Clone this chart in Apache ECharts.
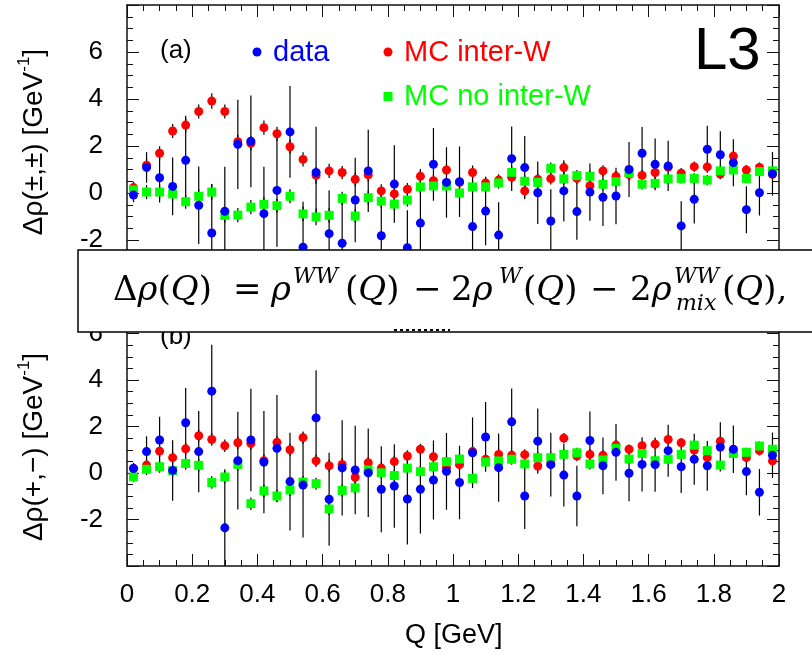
<!DOCTYPE html>
<html>
<head>
<meta charset="utf-8">
<script src="https://cdn.jsdelivr.net/npm/echarts@6/dist/echarts.min.js"></script>
<style>
  html, body { margin: 0; padding: 0; background: #fff; }
  #chart { width: 812px; height: 658px; }
</style>
</head>
<body>
<div id="chart"></div>
<script>
// Bin centres in Q [GeV]
const Q = [0.02,0.06,0.10,0.14,0.18,0.22,0.26,0.30,0.34,0.38,0.42,0.46,0.50,0.54,0.58,0.62,0.66,0.70,0.74,0.78,
           0.82,0.86,0.90,0.94,0.98,1.02,1.06,1.10,1.14,1.18,1.22,1.26,1.30,1.34,1.38,1.42,1.46,1.50,1.54,1.58,
           1.62,1.66,1.70,1.74,1.78,1.82,1.86,1.90,1.94,1.98];

// Panel (a): like-sign pairs
const dataA = [-0.09,1.09,0.65,0.28,1.39,-0.52,-1.70,-0.78,2.07,2.20,-0.88,0.11,2.60,-2.31,0.87,-1.73,-2.14,-0.30,0.94,-1.82,
               0.38,-2.33,-1.28,1.22,0.45,0.48,-1.43,-0.77,-1.79,1.46,1.08,0.01,-1.19,0.09,-0.79,0.04,-0.18,-0.13,1.00,1.69,
               1.22,1.15,-1.40,-0.27,1.86,1.63,1.29,-0.71,0.01,0.82];
const errA  = [0.30,0.65,1.05,1.23,1.90,1.65,2.08,1.90,1.90,1.95,2.00,2.40,1.95,1.94,1.95,1.85,2.10,1.80,1.75,2.00,
               1.65,1.60,2.30,1.55,1.50,1.50,2.60,1.45,1.40,1.37,1.35,1.33,1.35,1.30,1.20,1.22,1.22,1.20,1.17,1.12,
               1.10,1.07,1.05,1.03,1.00,1.00,1.00,1.00,0.97,0.93];
const mcInterA = [0.23,1.18,1.69,2.64,2.89,3.47,3.91,3.47,2.18,2.11,2.78,2.52,1.97,1.43,0.75,0.94,0.87,0.58,0.77,0.09,
                  -0.04,0.16,0.71,0.52,0.98,0.45,0.87,0.43,0.55,0.67,0.09,0.58,0.61,1.08,0.62,0.31,0.94,0.71,0.78,0.75,
                  0.87,1.10,0.84,1.12,1.11,0.81,1.57,0.98,1.09,0.80];
const mcNoInterA = [0.13,0.04,0.04,-0.04,-0.37,-0.14,0.04,-0.95,-0.94,-0.60,-0.48,-0.54,-0.14,-0.89,-1.02,-0.95,-0.23,-0.98,-0.20,-0.35,
                    -0.47,-0.30,0.26,0.30,0.30,0.00,0.26,0.26,0.43,0.88,0.50,0.45,1.05,0.60,0.74,0.71,0.37,0.48,0.84,0.38,
                    0.41,0.60,0.62,0.62,0.55,0.94,0.98,0.62,0.91,0.94];
const mcErrA = [0.25,0.30,0.30,0.30,0.30,0.30,0.33,0.30,0.30,0.30,0.30,0.30,0.30,0.30,0.35,0.30,0.28,0.28,0.28,0.28,
                0.27,0.27,0.27,0.27,0.26,0.26,0.26,0.26,0.25,0.25,0.25,0.25,0.25,0.24,0.24,0.24,0.24,0.23,0.23,0.23,
                0.23,0.22,0.22,0.22,0.22,0.22,0.21,0.21,0.21,0.21];

// Panel (b): unlike-sign pairs
const dataB = [0.19,0.92,1.42,0.11,2.16,0.92,3.52,-2.36,0.53,1.42,0.47,1.06,-0.37,-0.52,2.37,-1.13,0.22,0.13,0.01,-0.70,
               -0.56,-1.12,-0.70,-0.30,0.07,-0.41,0.87,1.55,0.23,2.20,-0.99,1.37,0.36,-0.09,-0.99,1.40,0.31,0.89,-0.01,0.37,
               0.36,0.96,0.27,0.59,0.31,1.12,1.02,0.06,-0.83,0.76];
const errB  = [0.25,0.66,1.00,1.30,1.50,1.75,2.00,2.52,2.10,2.20,2.20,2.30,2.10,2.25,2.05,2.00,2.05,1.90,1.90,1.85,
               1.80,1.95,1.90,1.70,1.65,1.58,1.52,1.50,1.47,1.43,1.42,1.40,1.37,1.35,1.30,1.25,1.22,1.22,1.20,1.17,
               1.17,1.12,1.13,1.10,1.07,1.06,1.02,1.02,1.00,0.98];
const mcInterB = [0.20,0.34,0.94,0.66,1.04,1.60,1.44,1.17,1.30,1.27,0.53,1.32,1.00,1.52,0.52,0.31,0.37,-0.19,0.44,0.21,
                  0.49,0.73,1.02,0.70,0.24,0.36,0.92,0.59,0.80,0.76,0.79,0.30,0.40,1.50,0.73,0.80,0.76,1.20,1.02,1.17,
                  1.24,1.44,1.30,0.99,0.66,1.37,0.84,0.66,0.96,0.52];
const mcNoInterB = [-0.16,0.16,0.27,0.10,0.41,0.33,-0.41,-0.17,0.37,-1.32,-0.77,-0.99,-0.73,-0.39,-0.46,-1.55,-0.75,-0.64,0.13,0.01,
                    -0.11,0.21,0.06,0.27,0.49,0.60,-0.23,0.47,0.52,0.59,0.39,0.66,0.66,0.80,0.87,0.39,0.56,1.06,0.60,0.84,
                    0.53,0.59,0.80,1.20,0.96,0.34,0.84,0.89,1.16,1.02];
const mcErrB = [0.22,0.25,0.26,0.26,0.27,0.27,0.27,0.27,0.27,0.27,0.27,0.27,0.26,0.26,0.26,0.26,0.26,0.25,0.25,0.25,
                0.25,0.25,0.24,0.24,0.24,0.24,0.24,0.23,0.23,0.23,0.23,0.23,0.22,0.22,0.22,0.22,0.22,0.21,0.21,0.21,
                0.21,0.21,0.20,0.20,0.20,0.20,0.20,0.20,0.20,0.20];

// Axis settings
const xTicks = { min: 0, max: 2, interval: 0.2 };
const yRange = { min: -4, max: 8, interval: 2 };
const yLabelShown = [-2, 0, 2, 4, 6];

const BLUE = '#0000ff', RED = '#ff0000', GREEN = '#00ff00';
const SANS = 'Liberation Sans, Arial, Helvetica, sans-serif';
const SERIF = 'DejaVu Serif, Liberation Serif, serif';

const chart = echarts.init(document.getElementById('chart'), null, { renderer: 'canvas' });

const frameLine = { show: true, onZero: false, lineStyle: { color: '#111', width: 1.5 } };
const majorTick = { show: true, inside: true, length: 12, lineStyle: { color: '#111', width: 1 } };
const minorTick = { show: true, splitNumber: 4, length: 6, lineStyle: { color: '#111', width: 1 } };

function xAxisDef(grid, pos, labels) {
  return Object.assign({
    type: 'value', gridIndex: grid, position: pos,
    axisLine: frameLine, axisTick: majorTick, minorTick: minorTick,
    splitLine: { show: false },
    axisLabel: labels ? {
      show: true, margin: 16, color: '#000', fontSize: 26, fontFamily: SANS
    } : { show: false }
  }, xTicks);
}
function yAxisDef(grid, pos, labels) {
  return Object.assign({
    type: 'value', gridIndex: grid, position: pos,
    axisLine: frameLine, axisTick: majorTick, minorTick: minorTick,
    splitLine: { show: false },
    axisLabel: labels ? {
      show: true, margin: 24, color: '#000', fontSize: 26, fontFamily: SANS,
      formatter: v => (yLabelShown.indexOf(v) >= 0 ? String(v) : '')
    } : { show: false }
  }, yRange);
}

function pts(ys) { return Q.map((q, i) => [q, ys[i]]); }
function errPts(ys, es) { return Q.map((q, i) => [q, ys[i], es[i]]); }

function errorBars(xi, yi, ys, es, z) {
  return {
    type: 'custom', xAxisIndex: xi, yAxisIndex: yi, z: z, clip: true, silent: true,
    data: errPts(ys, es),
    renderItem: function (params, api) {
      const x = api.value(0), y = api.value(1), e = api.value(2);
      const lo = api.coord([x, y - e]), hi = api.coord([x, y + e]);
      return {
        type: 'line',
        shape: { x1: lo[0], y1: lo[1], x2: hi[0], y2: hi[1] },
        style: { stroke: '#000', lineWidth: 1.2 }
      };
    }
  };
}
function markers(xi, yi, ys, color, symbol, size, z) {
  return {
    type: 'scatter', xAxisIndex: xi, yAxisIndex: yi, z: z, silent: true,
    symbol: symbol, symbolSize: size,
    itemStyle: { color: color, opacity: 1 },
    data: pts(ys)
  };
}

function panel(xi, yi, d, e, mi, mn, me) {
  return [
    errorBars(xi, yi, mi, me, 1),
    errorBars(xi, yi, mn, me, 1),
    errorBars(xi, yi, d, e, 1),
    markers(xi, yi, mi, RED, 'circle', 9, 3),
    markers(xi, yi, mn, GREEN, 'rect', 9, 4),
    markers(xi, yi, d, BLUE, 'circle', 9, 5)
  ];
}

// Pieces of the definition shown in the overlay box
const formula = [
  { t: '{u|Δ}{i|ρ}{u|(}{i|Q}{u|)}', x: 113, y: 291, s: 34 },
  { t: '{u|=}', x: 233, y: 291, s: 34 },
  { t: '{i|ρ}', x: 271, y: 291, s: 34 },
  { t: '{i|WW}', x: 293, y: 277, s: 22 },
  { t: '{u|(}{i|Q}{u|)}', x: 345, y: 291, s: 34 },
  { t: '{u|−}', x: 413, y: 291, s: 34 },
  { t: '{u|2}{i|ρ}', x: 451, y: 291, s: 34 },
  { t: '{i|W}', x: 499, y: 277, s: 22 },
  { t: '{u|(}{i|Q}{u|)}', x: 523, y: 291, s: 34 },
  { t: '{u|−}', x: 590, y: 291, s: 34 },
  { t: '{u|2}{i|ρ}', x: 630, y: 291, s: 34 },
  { t: '{i|WW}', x: 674, y: 277, s: 22 },
  { t: '{i|mix}', x: 676, y: 304, s: 22 },
  { t: '{u|(}{i|Q}{u|),}', x: 722, y: 291, s: 34 }
];
const formulaEls = formula.map(f => ({
  type: 'text', z: 102, x: f.x, y: f.y,
  style: {
    text: f.t, fill: '#000', align: 'left', verticalAlign: 'middle',
    rich: {
      u: { fontFamily: SERIF, fontSize: f.s, fill: '#000' },
      i: { fontFamily: SERIF, fontSize: f.s, fontStyle: 'italic', fill: '#000' }
    }
  }
}));

function yTitle(sign, cy) {
  return {
    type: 'text', z: 50, x: 32, y: cy, rotation: Math.PI / 2,
    style: {
      text: '{m|Δρ(' + sign + ') [GeV}{s|-1}{m|]}',
      align: 'center', verticalAlign: 'middle',
      rich: {
        m: { fontFamily: SANS, fontSize: 28, fill: '#000', verticalAlign: 'bottom', lineHeight: 32 },
        s: { fontFamily: SANS, fontSize: 17, fill: '#000', verticalAlign: 'top', lineHeight: 32 }
      }
    }
  };
}

const option = {
  animation: false,
  backgroundColor: '#fff',
  grid: [
    { left: 127, right: 33, top: 5, height: 282 },
    { left: 127, right: 33, top: 287, height: 279 }
  ],
  xAxis: [
    xAxisDef(0, 'bottom', false),
    xAxisDef(0, 'top', false),
    xAxisDef(1, 'bottom', true),
    xAxisDef(1, 'top', false)
  ],
  yAxis: [
    yAxisDef(0, 'left', true),
    yAxisDef(0, 'right', false),
    yAxisDef(1, 'left', true),
    yAxisDef(1, 'right', false)
  ],
  series: [].concat(
    panel(0, 0, dataA, errA, mcInterA, mcNoInterA, mcErrA),
    panel(2, 2, dataB, errB, mcInterB, mcNoInterB, mcErrB)
  ),
  graphic: [
    // panel tags and experiment label
    { type: 'text', z: 50, left: 160, top: 38, style: { text: '(a)', font: '26px ' + SANS, fill: '#000' } },
    { type: 'text', z: 50, left: 160, top: 324, style: { text: '(b)', font: '26px ' + SANS, fill: '#000' } },
    { type: 'text', z: 50, left: 694, top: 22, style: { text: 'L3', font: '60px ' + SANS, fill: '#000' } },
    // legend
    { type: 'circle', z: 50, shape: { cx: 257, cy: 52, r: 4.5 }, style: { fill: BLUE } },
    { type: 'text', z: 50, left: 273, top: 38, style: { text: 'data', font: '29px ' + SANS, fill: BLUE } },
    { type: 'circle', z: 50, shape: { cx: 388, cy: 52, r: 4.5 }, style: { fill: RED } },
    { type: 'text', z: 50, left: 404, top: 38, style: { text: 'MC inter-W', font: '29px ' + SANS, fill: RED } },
    { type: 'rect', z: 50, shape: { x: 383.5, y: 92, width: 9, height: 9 }, style: { fill: GREEN } },
    { type: 'text', z: 50, left: 404, top: 82, style: { text: 'MC no inter-W', font: '29px ' + SANS, fill: GREEN } },
    // axis titles
    yTitle('±,±', 142),
    yTitle('+,−', 447),
    { type: 'text', z: 50, left: 405, top: 622, style: { text: 'Q [GeV]', font: '27px ' + SANS, fill: '#000' } },
    // overlay box with the definition
    { type: 'rect', z: 100, shape: { x: 78, y: 250, width: 740, height: 82 },
      style: { fill: '#fff', stroke: '#000', lineWidth: 1.5 } },
    { type: 'line', z: 101, shape: { x1: 394, y1: 330, x2: 450, y2: 330 },
      style: { stroke: '#000', lineWidth: 2, lineDash: [3, 3] } }
  ].concat(formulaEls)
};

chart.setOption(option);
</script>
</body>
</html>
